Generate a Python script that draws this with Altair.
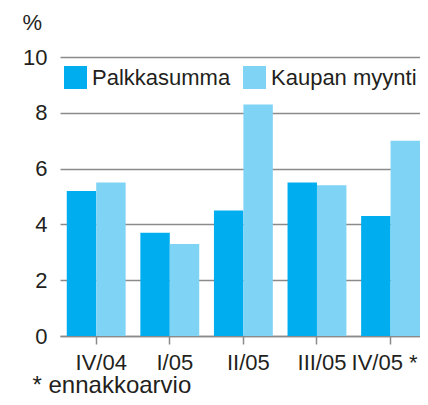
import altair as alt
import pandas as pd

quarters = ["IV/04", "I/05", "II/05", "III/05", "IV/05 *"]
series = ["Palkkasumma", "Kaupan myynti"]
palkkasumma = [5.2, 3.7, 4.5, 5.5, 4.3]
kaupan_myynti = [5.5, 3.3, 8.3, 5.4, 7.0]
y_ticks = [0, 2, 4, 6, 8, 10]
colors = ["#00AEEF", "#7FD3F5"]

rows = []
for q, a, b in zip(quarters, palkkasumma, kaupan_myynti):
    rows.append({"q": q, "s": series[0], "v": a})
    rows.append({"q": q, "s": series[1], "v": b})
df = pd.DataFrame(rows)

FONT = "Liberation Sans"
TXT = "#231F20"
GRID = "#8A8A8A"

chart = alt.Chart(df).mark_bar().encode(
    x=alt.X("q:N", sort=quarters,
            scale=alt.Scale(paddingInner=0.2, paddingOuter=0.046, align=1),
            axis=alt.Axis(title="* ennakkoarvio", labelAngle=0, labelFontSize=22,
                          labelColor=TXT, labelFont=FONT, labelPadding=8,
                          labelOffset={"condition": {"test": "datum.value === 'IV/05 *'", "value": -6},
                                       "value": 5},
                          domain=True, domainColor=GRID, domainWidth=1.5,
                          ticks=True, tickColor=GRID, tickWidth=1.5, tickSize=8,
                          grid=False,
                          titleFont=FONT, titleFontSize=24, titleFontWeight="normal",
                          titleColor=TXT, titleAlign="left", titleAnchor="start",
                          titleBaseline="alphabetic", titleX=-28, titleY=56)),
    xOffset=alt.XOffset("s:N", sort=series, scale=alt.Scale(paddingInner=0, paddingOuter=0)),
    y=alt.Y("v:Q", scale=alt.Scale(domain=[0, 10], nice=False),
            axis=alt.Axis(title="%", values=y_ticks, labelFontSize=22, labelColor=TXT,
                          labelFont=FONT, labelPadding=13, domain=False, ticks=False,
                          grid=True, gridColor=GRID, gridWidth=1.5,
                          titleFont=FONT, titleFontSize=22, titleFontWeight="normal",
                          titleColor=TXT, titleAngle=0, titleAlign="left",
                          titleBaseline="alphabetic", titleX=-38, titleY=-28)),
    color=alt.Color("s:N", sort=series,
                    scale=alt.Scale(domain=series, range=colors),
                    legend=alt.Legend(title=None, orient="none", legendX=4, legendY=9,
                                      direction="horizontal", symbolType="square",
                                      symbolSize=529, symbolStrokeWidth=0,
                                      symbolOpacity=1, labelFontSize=22, labelFont=FONT,
                                      labelColor=TXT, labelOffset=5, columnPadding=12,
                                      padding=0)),
).properties(
    width=360, height=279,
    autosize=alt.AutoSizeParams(type="none"),
    padding={"left": 52, "top": 49, "right": 0, "bottom": 61},
).configure_view(stroke=None)

chart.save("out.html", embed_options={"renderer": "svg", "actions": False})
